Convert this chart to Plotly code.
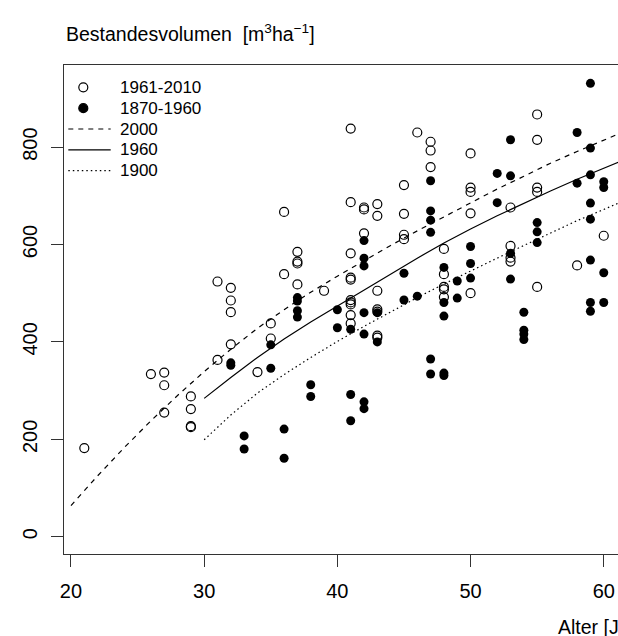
import plotly.graph_objects as go

# ---- data ----
new_age = [21, 26, 27, 27, 27, 29, 29, 29, 29, 31, 31, 32, 32, 32, 32, 34, 35, 35, 36, 36,
           37, 37, 37, 37, 39, 41, 41, 41, 41, 41, 41, 41, 41, 41, 41, 42, 42, 42,
           43, 43, 43, 43, 43, 43, 43, 45, 45, 45, 45, 46, 47, 47, 47,
           48, 48, 48, 48, 48, 50, 50, 50, 50, 50, 53, 53, 53, 53,
           55, 55, 55, 55, 55, 58, 60]
new_vol = [182, 334, 337, 311, 255, 288, 262, 227, 225, 524, 363, 511, 485, 461, 395, 338, 438, 407, 667, 539,
           585, 565, 561, 518, 505, 838, 687, 582, 532, 528, 486, 481, 477, 455, 438, 676, 672, 623,
           683, 659, 505, 467, 462, 413, 409, 722, 663, 620, 611, 830, 811, 793, 759,
           591, 539, 513, 508, 492, 787, 717, 708, 664, 500, 676, 597, 573, 565,
           867, 815, 717, 708, 513, 557, 618]

old_age = [32, 32, 33, 33, 35, 35, 36, 36, 37, 37, 37, 37, 38, 38, 40, 40, 41, 41, 41,
           42, 42, 42, 42, 42, 42, 42, 43, 43, 45, 45, 46, 47, 47, 47, 47, 47, 47,
           48, 48, 48, 48, 48, 49, 49, 50, 50, 50, 52, 52, 53, 53, 53, 53,
           54, 54, 54, 54, 55, 55, 55, 58, 58, 59, 59, 59, 59, 59, 59, 59, 59,
           60, 60, 60, 60]
old_vol = [357, 352, 207, 180, 394, 346, 221, 161, 491, 484, 464, 451, 312, 288, 466, 429, 426, 292, 238,
           608, 572, 556, 460, 416, 277, 263, 460, 400, 541, 486, 494, 731, 669, 650, 625, 365, 334,
           553, 481, 453, 336, 331, 525, 490, 596, 561, 531, 746, 686, 815, 741, 582, 529,
           461, 424, 416, 405, 645, 626, 604, 830, 726, 931, 798, 743, 685, 652, 568, 481, 463,
           729, 717, 542, 481]

curve2000_age = [20, 22, 24, 26, 28, 30, 32, 34, 36, 38, 40, 42, 44, 46, 48, 50, 52, 54, 56, 58, 60, 61.1]
curve2000_vol = [64, 125, 183, 238, 290, 339, 385, 428, 466, 502, 535, 567, 598, 628, 657, 686, 714, 740, 767, 791, 814, 827]

curve1960_age = [30, 32, 34, 36, 38, 40, 42, 44, 46, 48, 50, 52, 54, 56, 58, 60, 61.1]
curve1960_vol = [284, 327, 368, 406, 441, 474, 506, 540, 572, 603, 632, 659, 685, 710, 734, 757, 769]

curve1900_age = [30, 32, 34, 36, 38, 40, 42, 44, 46, 48, 50, 52, 54, 56, 58, 60, 61.1]
curve1900_vol = [199, 250, 295, 333, 368, 401, 432, 462, 491, 519, 546, 572, 598, 624, 649, 672, 685]

x_ticks = [20, 30, 40, 50, 60]
y_ticks = [0, 200, 400, 600, 800]

legend_labels = ["1961-2010", "1870-1960", "2000", "1960", "1900"]
legend_kinds = ["open", "filled", "dash", "solid", "dot"]

FONT = "Liberation Sans, Arial, Helvetica, sans-serif"
DASH = "5px,5px"
DOT = "1.5px,3px"

# figure geometry (pixels)
W, H = 618, 636
ML, MR, MT, MB = 64, 0, 65, 82
PW, PH = W - ML - MR, H - MT - MB

def px_to_paper_x(px):
    return (px - ML) / PW

def px_to_paper_y(py):
    return (H - MB - py) / PH

fig = go.Figure()
fig.add_trace(go.Scatter(x=new_age, y=new_vol, mode="markers", name=legend_labels[0],
                         marker=dict(symbol="circle-open", size=9, color="black",
                                     line=dict(width=1.2, color="black"))))
fig.add_trace(go.Scatter(x=old_age, y=old_vol, mode="markers", name=legend_labels[1],
                         marker=dict(symbol="circle", size=9, color="black")))
fig.add_trace(go.Scatter(x=curve2000_age, y=curve2000_vol, mode="lines", name=legend_labels[2],
                         line=dict(color="black", width=1.2, dash=DASH)))
fig.add_trace(go.Scatter(x=curve1960_age, y=curve1960_vol, mode="lines", name=legend_labels[3],
                         line=dict(color="black", width=1.2)))
fig.add_trace(go.Scatter(x=curve1900_age, y=curve1900_vol, mode="lines", name=legend_labels[4],
                         line=dict(color="black", width=1.2, dash=DOT)))

# ---- hand-drawn legend (R style) ----
shapes = []
annotations = []
leg_top, leg_gap = 87.3, 20.85
sym_x, line_x0, line_x1, text_x = 83.3, 68.3, 110.7, 118.3
for i, (lab, kind) in enumerate(zip(legend_labels, legend_kinds)):
    cy = leg_top + i * leg_gap
    py = px_to_paper_y(cy)
    if kind in ("open", "filled"):
        shapes.append(dict(type="circle", xref="paper", yref="paper",
                           xsizemode="pixel", ysizemode="pixel",
                           xanchor=px_to_paper_x(sym_x), yanchor=py,
                           x0=-4.5, x1=4.5, y0=-4.5, y1=4.5,
                           line=dict(color="black", width=1.2),
                           fillcolor="black" if kind == "filled" else "rgba(0,0,0,0)"))
    else:
        dash = {"dash": DASH, "solid": "solid", "dot": DOT}[kind]
        shapes.append(dict(type="line", xref="paper", yref="paper",
                           x0=px_to_paper_x(line_x0), x1=px_to_paper_x(line_x1), y0=py, y1=py,
                           line=dict(color="black", width=1.2, dash=dash)))
    annotations.append(dict(text=lab, xref="paper", yref="paper",
                            x=px_to_paper_x(text_x), y=py, xanchor="left", yanchor="middle",
                            showarrow=False, font=dict(size=17, family=FONT)))

annotations.append(dict(text="Bestandesvolumen\u00a0\u00a0[m<sup>3</sup>ha<sup>\u22121</sup>]",
                        xref="paper", yref="paper", x=px_to_paper_x(64), y=px_to_paper_y(33),
                        xanchor="left", yanchor="middle", showarrow=False,
                        font=dict(size=19.5, family=FONT)))
annotations.append(dict(text="Alter [Jahre]", xref="paper", yref="paper",
                        x=px_to_paper_x(556), y=px_to_paper_y(627),
                        xanchor="left", yanchor="middle", showarrow=False,
                        font=dict(size=19.5, family=FONT)))

fig.update_layout(
    width=W, height=H,
    margin=dict(l=ML, r=MR, t=MT, b=MB),
    paper_bgcolor="white", plot_bgcolor="white",
    font=dict(family=FONT, size=20, color="black"),
    showlegend=False,
    shapes=shapes,
    annotations=annotations,
    xaxis=dict(range=[19.475, 61.07], tickvals=x_ticks, ticks="outside", ticklen=12,
               tickwidth=1, tickcolor="#333", showline=True, linecolor="#333", linewidth=1.2,
               mirror=True, showgrid=False, zeroline=False, ticklabelstandoff=7,
               tickfont=dict(size=20)),
    yaxis=dict(range=[-35.5, 968.6], tickvals=y_ticks, ticks="outside", ticklen=12,
               tickwidth=1, tickcolor="#333", showline=True, linecolor="#333", linewidth=1.2,
               mirror=False, showgrid=False, zeroline=False, tickangle=-90,
               ticklabelstandoff=6, tickfont=dict(size=20)),
)

fig.write_html("out.html", config={"displayModeBar": False},
               post_script="document.body.style.margin='0px';")
